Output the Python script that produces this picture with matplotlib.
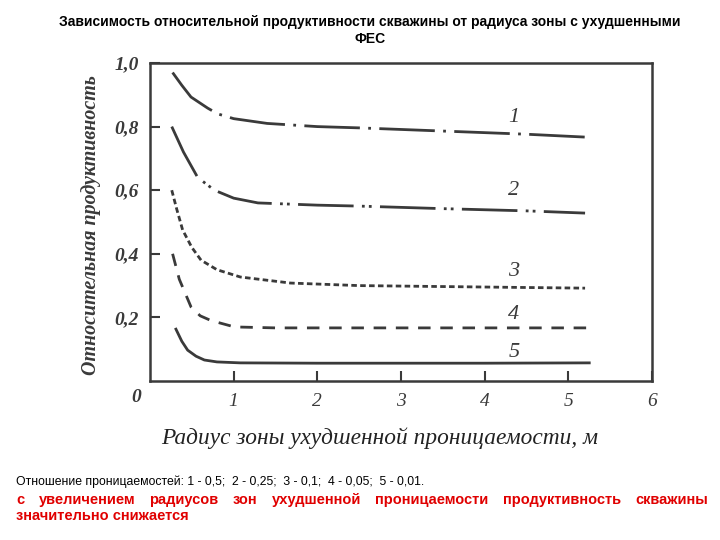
import matplotlib

matplotlib.use("Agg")
import matplotlib.pyplot as plt

# Curves: radius of damaged zone (m) vs relative productivity
x1 = [0.27, 0.38, 0.49, 0.69, 0.81, 1.0, 1.4, 2.0, 2.5, 3.5, 4.5, 5.2]
y1 = [0.97, 0.93, 0.893, 0.858, 0.84, 0.825, 0.81, 0.80, 0.796, 0.786, 0.776, 0.767]
x2 = [0.26, 0.4, 0.57, 0.77, 1.0, 1.29, 2.0, 2.5, 3.5, 4.5, 5.2]
y2 = [0.80, 0.72, 0.64, 0.60, 0.575, 0.56, 0.553, 0.55, 0.542, 0.535, 0.528]
x3 = [0.26, 0.32, 0.39, 0.5, 0.61, 0.8, 1.08, 1.68, 2.5, 3.5, 4.5, 5.2]
y3 = [0.60, 0.54, 0.475, 0.42, 0.38, 0.35, 0.327, 0.308, 0.30, 0.297, 0.294, 0.292]
x4 = [0.27, 0.35, 0.49, 0.6, 0.73, 1.01, 1.5, 2.5, 3.5, 4.5, 5.25]
y4 = [0.40, 0.32, 0.233, 0.205, 0.19, 0.17, 0.167, 0.167, 0.167, 0.167, 0.167]
x5 = [0.31, 0.38, 0.45, 0.55, 0.65, 0.8, 1.08, 2.0, 3.0, 4.0, 5.25]
y5 = [0.163, 0.125, 0.097, 0.078, 0.066, 0.06, 0.057, 0.056, 0.056, 0.056, 0.057]

curve_names = ["1", "2", "3", "4", "5"]
name_x = 4.35
name_y = [0.83, 0.60, 0.345, 0.21, 0.09]

xticks = [1, 2, 3, 4, 5, 6]
yticks = [0.2, 0.4, 0.6, 0.8, 1.0]
ytick_labels = ["0,2", "0,4", "0,6", "0,8", "1,0"]

title = ("Зависимость относительной продуктивности скважины от радиуса зоны с ухудшенными\nФЕС")
note = "Отношение проницаемостей: 1 - 0,5;  2 - 0,25;  3 - 0,1;  4 - 0,05;  5 - 0,01."
conclusion_line1 = "с увеличением радиусов зон ухудшенной проницаемости продуктивность скважины"
conclusion_line2 = "значительно снижается"

INK = "#3a3a3a"
SERIF = ["Liberation Serif", "DejaVu Serif"]
SANS = ["Liberation Sans", "DejaVu Sans"]

fig = plt.figure(figsize=(7.2, 5.4), dpi=100)
ax = fig.add_axes([150 / 720, 1 - 381 / 540, 502 / 720, 318 / 540])

lw = 2.0
ax.plot(x1, y1, color=INK, lw=lw, dashes=(20, 3, 1, 3))
ax.plot(x2, y2, color=INK, lw=lw, dashes=(20, 3, 1, 1.5, 1, 3))
ax.plot(x3, y3, color=INK, lw=lw, dashes=(2.0, 1.2))
ax.plot(x4, y4, color=INK, lw=lw, dashes=(4.5, 3.5))
ax.plot(x5, y5, color=INK, lw=lw)

for name, y in zip(curve_names, name_y):
    ax.text(name_x, y, name, fontsize=16, style="italic", family=SERIF,
            color=INK, ha="center", va="center")

ax.set_xlim(0, 6)
ax.set_ylim(0, 1.0)
ax.set_xticks(xticks)
ax.set_xticklabels([str(t) for t in xticks], fontsize=14, style="italic",
                   family=SERIF, color=INK)
ax.set_yticks(yticks)
ax.set_yticklabels(ytick_labels, fontsize=14, style="italic", weight="bold",
                   family=SERIF, color=INK)
ax.tick_params(direction="in", length=7, width=1.5, color=INK, pad=9)
ax.tick_params(axis="y", pad=8)
for s in ax.spines.values():
    s.set_color(INK)
    s.set_linewidth(1.8)
ax.text(-0.018, -0.025, "0", transform=ax.transAxes, fontsize=14, style="italic",
        weight="bold", family=SERIF, color=INK, ha="right", va="top")

ax.set_ylabel("Относительная продуктивность", fontsize=14.4, style="italic",
              weight="bold", family=SERIF, color=INK)
ax.yaxis.set_label_coords(-0.097, 0.49)
ax.set_xlabel("Радиус зоны ухудшенной проницаемости, м", fontsize=16.8,
              style="italic", family=SERIF, color="#222222")
ax.xaxis.set_label_coords(0.458, -0.145)

fig.text(0.514, 0.972, title, ha="center", va="top", fontsize=10,
         weight="bold", family=SANS, linespacing=1.3)
fig.text(16 / 720, 1 - 482 / 540, note, ha="left", va="center", fontsize=8.8,
         family=SANS)

RED = "#e00000"


def justify(words, x0, x1, y, **kw):
    # place words so the line spans exactly x0..x1 (figure pixels)
    renderer = fig.canvas.get_renderer()
    texts = [fig.text(0, y / 540, w, **kw) for w in words]
    widths = [t.get_window_extent(renderer).width for t in texts]
    gap = (x1 - x0 - sum(widths)) / (len(words) - 1)
    x = x0
    for t, w in zip(texts, widths):
        t.set_x(x / 720)
        x += w + gap


red_kw = dict(fontsize=10.5, weight="bold", color=RED, family=SANS,
              ha="left", va="center")
justify(conclusion_line1.split(), 16, 708, 540 - 500, **red_kw)
fig.text(16 / 720, 1 - 516 / 540, conclusion_line2, **red_kw)

fig.savefig("out.png", dpi=100)
